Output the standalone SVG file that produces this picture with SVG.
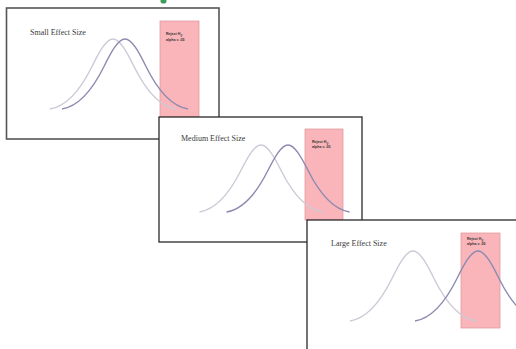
<svg xmlns="http://www.w3.org/2000/svg" width="516" height="349" viewBox="0 0 516 349">
<style>
.frame{fill:#fff;stroke:#2a2a2a;stroke-width:1.3}
.rej{fill:#f9b5b9;stroke:#e29ca0;stroke-width:0.8}
.lc{fill:none;stroke:#cbcbd8;stroke-width:1.4}
.dc{fill:none;stroke:#8c8ab0;stroke-width:1.4}
.title{font-family:"Liberation Serif",serif;font-size:8px;fill:#3a3a3a}
.rt{font-family:"Liberation Sans",sans-serif;font-size:3.6px;font-weight:bold;fill:#333}
</style>
<rect width="516" height="349" fill="#fff"/>
<ellipse cx="163.5" cy="1" rx="3" ry="2.6" fill="#3f9b5c"/>
<g id="panel-small">
<rect class="frame" x="6.5" y="8" width="212.5" height="131" style="stroke:#555;stroke-width:1.6"/>
<text class="title" x="30" y="35">Small Effect Size</text>
<rect class="rej" x="160" y="21" width="39" height="96"/>
<path class="lc" d="M50,109 C64,106.7 78,94.9 92,66.5 C99,52.4 106,39 113,39 C120,39 127,52.4 134,66.5 C148,94.9 162,106.7 176,109"/>
<path class="dc" d="M62,109 C76,106.7 90,94.9 104,66.5 C111,52.4 118,39 125,39 C132,39 139,52.4 146,66.5 C160,94.9 174,106.7 188,109"/>
<text class="rt" x="166" y="34.5">Reject H<tspan baseline-shift="sub" font-size="2.6">0</tspan>,</text>
<text class="rt" x="166" y="40.5">alpha = .05</text>
</g>
<g id="panel-medium">
<rect class="frame" x="159" y="117" width="203" height="125"/>
<text class="title" x="181" y="141">Medium Effect Size</text>
<rect class="rej" x="305" y="129" width="38" height="91"/>
<path class="lc" d="M199.5,212 C213.2,209.8 226.8,198.5 240.5,171.3 C247.3,157.8 254.2,145 261,145 C267.8,145 274.7,157.8 281.5,171.3 C295.2,198.5 308.8,209.8 322.5,212"/>
<path class="dc" d="M226.5,212 C240.2,209.8 253.8,198.5 267.5,171.3 C274.3,157.8 281.2,145 288,145 C294.8,145 301.7,157.8 308.5,171.3 C322.2,198.5 335.8,209.8 349.5,212"/>
<text class="rt" x="312" y="142.5">Reject H<tspan baseline-shift="sub" font-size="2.6">0</tspan>,</text>
<text class="rt" x="312" y="148">alpha = .05</text>
</g>
<g id="panel-large">
<rect class="frame" x="307" y="220" width="215" height="135"/>
<text class="title" x="331" y="246">Large Effect Size</text>
<rect class="rej" x="461" y="233" width="39" height="95"/>
<path class="lc" d="M350,321 C364,318.7 378,306.9 392,278.5 C399,264.4 406,251 413,251 C420,251 427,264.4 434,278.5 C448,306.9 462,318.7 476,321"/>
<path class="dc" d="M415,321 C429,318.7 443,306.9 457,278.5 C464,264.4 471,251 478,251 C485,251 492,264.4 499,278.5 C513,306.9 527,318.7 541,321"/>
<text class="rt" x="467" y="239.5">Reject H<tspan baseline-shift="sub" font-size="2.6">0</tspan>,</text>
<text class="rt" x="467" y="245">alpha = .05</text>
</g>
<g id="connectors"/>
</svg>
